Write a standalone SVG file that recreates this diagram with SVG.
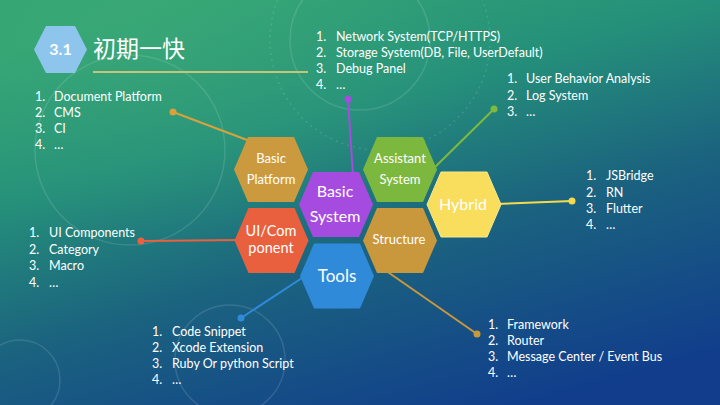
<svg xmlns="http://www.w3.org/2000/svg" width="720" height="405" viewBox="0 0 720 405">
  <defs>
    <linearGradient id="bg" x1="0.25" y1="0" x2="0.75" y2="1">
      <stop offset="0" stop-color="#33A474"/>
      <stop offset="0.3" stop-color="#25907A"/>
      <stop offset="0.6" stop-color="#1B637F"/>
      <stop offset="1" stop-color="#113D8C"/>
    </linearGradient>
    <radialGradient id="glow" cx="0.2" cy="0.1" r="0.5">
      <stop offset="0" stop-color="#45B07A" stop-opacity="0.35"/>
      <stop offset="1" stop-color="#45B07A" stop-opacity="0"/>
    </radialGradient>
    <polygon id="hex" points="-37,0 -23,-32.5 23,-32.5 37,0 23,32.5 -23,32.5"/>
  </defs>
  <style>
    .lst { font-family: Lato, "Open Sans", "Liberation Sans", sans-serif; font-size: 12.5px; fill: #FFFFFF; }
    .hl { font-family: Lato, "Open Sans", "Liberation Sans", sans-serif; fill: #FFFFFF; text-anchor: middle; }
    .deco { fill: none; stroke: #FFFFFF; stroke-opacity: 0.12; stroke-width: 1.5; }
    .ring { fill: #FFFFFF; stroke-width: 1.5; }
  </style>
  <rect width="720" height="405" fill="url(#bg)"/>
  <rect width="720" height="405" fill="url(#glow)"/>
  <g id="decor">
    <circle cx="130" cy="150" r="95" class="deco"/>
    <circle cx="380" cy="40" r="110" class="deco" stroke-dasharray="2 4"/>
    <circle cx="360" cy="40" r="70" class="deco"/>
    <circle cx="230" cy="360" r="55" class="deco"/>
    <circle cx="20" cy="380" r="40" class="deco"/>
  </g>

  <g id="title">
    <polygon points="34,49.5 46,26 75,26 87,49.5 75,73 46,73" fill="#8EC5EC"/>
    <text x="60.5" y="55" class="hl" font-size="16" font-weight="bold">3.1</text>
    <text x="93" y="57" font-family="'Noto Sans CJK SC', sans-serif" font-size="23" fill="#FFFFFF">初期一快</text>
    <line x1="93" y1="72" x2="308" y2="72" stroke="#C9C27C" stroke-width="2"/>
  </g>

  <g id="connectors" stroke-width="2" fill="none">
    <line x1="173" y1="112" x2="255" y2="143" stroke="#D9A13E"/>
    <circle cx="173" cy="112" r="3.5" fill="#D9A13E" stroke="none"/>
    <circle cx="255" cy="143" r="3.5" class="ring" stroke="#D9A13E"/>

    <line x1="348" y1="99" x2="353" y2="176" stroke="#A64BE0"/>
    <circle cx="348" cy="99" r="3.5" fill="#A64BE0" stroke="none"/>
    <circle cx="353" cy="176" r="3.5" class="ring" stroke="#A64BE0"/>

    <line x1="494" y1="109" x2="432" y2="170" stroke="#7DBA3E"/>
    <circle cx="494" cy="109" r="3.5" fill="#7DBA3E" stroke="none"/>
    <circle cx="432" cy="170" r="3.5" class="ring" stroke="#7DBA3E"/>

    <line x1="496" y1="204" x2="572" y2="201" stroke="#F5DA4E"/>
    <circle cx="572" cy="201" r="3.5" fill="#F5DA4E" stroke="none"/>
    <circle cx="496" cy="204" r="3.5" class="ring" stroke="#F5DA4E"/>

    <line x1="141" y1="241" x2="241" y2="240" stroke="#EA613E"/>
    <circle cx="141" cy="241" r="3.5" fill="#EA613E" stroke="none"/>
    <circle cx="241" cy="240" r="3.5" class="ring" stroke="#EA613E"/>

    <line x1="305" y1="276" x2="241" y2="318" stroke="#2F8BDA"/>
    <circle cx="241" cy="318" r="3.5" fill="#2F8BDA" stroke="none"/>
    <circle cx="305" cy="276" r="3.5" class="ring" stroke="#D9A13E"/>

    <line x1="382" y1="268" x2="477" y2="334" stroke="#C9973C"/>
    <circle cx="477" cy="334" r="3.5" fill="#C9973C" stroke="none"/>
    <circle cx="382" cy="268" r="3.5" class="ring" stroke="#C9973C"/>
  </g>

  <g id="basic-platform">
    <use href="#hex" x="271" y="169.5" fill="#CC9A3E"/>
    <text x="271" y="162.5" class="hl" font-size="13">Basic</text>
    <text x="271" y="183.5" class="hl" font-size="13">Platform</text>
  </g>
  <g id="basic-system">
    <use href="#hex" x="336" y="204.5" fill="#A64BE0"/>
    <text x="335" y="197" class="hl" font-size="16">Basic</text>
    <text x="335" y="222" class="hl" font-size="16">System</text>
  </g>
  <g id="assistant-system">
    <use href="#hex" x="400" y="169.5" fill="#7DB83E"/>
    <text x="400" y="162.5" class="hl" font-size="13">Assistant</text>
    <text x="400" y="183.5" class="hl" font-size="13">System</text>
  </g>
  <g id="hybrid">
    <use href="#hex" x="464" y="204.5" fill="#F8DE5C" stroke="#FBE88A" stroke-width="1"/>
    <text x="463" y="209.5" class="hl" font-size="16">Hybrid</text>
  </g>
  <g id="ui-component">
    <use href="#hex" x="271.5" y="240.5" fill="#E9603E"/>
    <text x="271" y="236" class="hl" font-size="14.5">UI/Com</text>
    <text x="271" y="253" class="hl" font-size="14.5">ponent</text>
  </g>
  <g id="structure">
    <use href="#hex" x="400" y="240.5" fill="#C9973C"/>
    <text x="399" y="244" class="hl" font-size="13">Structure</text>
  </g>
  <g id="tools">
    <use href="#hex" x="337" y="276" fill="#2F8BDA"/>
    <text x="337" y="281.5" class="hl" font-size="17">Tools</text>
  </g>

  <g id="list-basic-system" class="lst">
    <text x="316" y="41">1.</text><text x="336" y="41">Network System(TCP/HTTPS)</text>
    <text x="316" y="57">2.</text><text x="336" y="57">Storage System(DB, File, UserDefault)</text>
    <text x="316" y="73">3.</text><text x="336" y="73">Debug Panel</text>
    <text x="316" y="89">4.</text><text x="336" y="89">…</text>
  </g>
  <g id="list-basic-platform" class="lst">
    <text x="35" y="101">1.</text><text x="54" y="101">Document Platform</text>
    <text x="35" y="117">2.</text><text x="54" y="117">CMS</text>
    <text x="35" y="133">3.</text><text x="54" y="133">CI</text>
    <text x="35" y="149">4.</text><text x="54" y="149">…</text>
  </g>
  <g id="list-assistant" class="lst">
    <text x="507" y="83">1.</text><text x="526" y="83">User Behavior Analysis</text>
    <text x="507" y="100">2.</text><text x="526" y="100">Log System</text>
    <text x="507" y="116">3.</text><text x="526" y="116">…</text>
  </g>
  <g id="list-hybrid" class="lst">
    <text x="586" y="180">1.</text><text x="606" y="180">JSBridge</text>
    <text x="586" y="197">2.</text><text x="606" y="197">RN</text>
    <text x="586" y="213">3.</text><text x="606" y="213">Flutter</text>
    <text x="586" y="229">4.</text><text x="606" y="229">…</text>
  </g>
  <g id="list-ui" class="lst">
    <text x="29" y="237">1.</text><text x="49" y="237">UI Components</text>
    <text x="29" y="254">2.</text><text x="49" y="254">Category</text>
    <text x="29" y="270">3.</text><text x="49" y="270">Macro</text>
    <text x="29" y="287">4.</text><text x="49" y="287">…</text>
  </g>
  <g id="list-tools" class="lst">
    <text x="152" y="336">1.</text><text x="172" y="336">Code Snippet</text>
    <text x="152" y="352">2.</text><text x="172" y="352">Xcode Extension</text>
    <text x="152" y="368">3.</text><text x="172" y="368">Ruby Or python Script</text>
    <text x="152" y="384">4.</text><text x="172" y="384">…</text>
  </g>
  <g id="list-structure" class="lst">
    <text x="488" y="329">1.</text><text x="507" y="329">Framework</text>
    <text x="488" y="345">2.</text><text x="507" y="345">Router</text>
    <text x="488" y="361">3.</text><text x="507" y="361">Message Center / Event Bus</text>
    <text x="488" y="377">4.</text><text x="507" y="377">…</text>
  </g>
</svg>
